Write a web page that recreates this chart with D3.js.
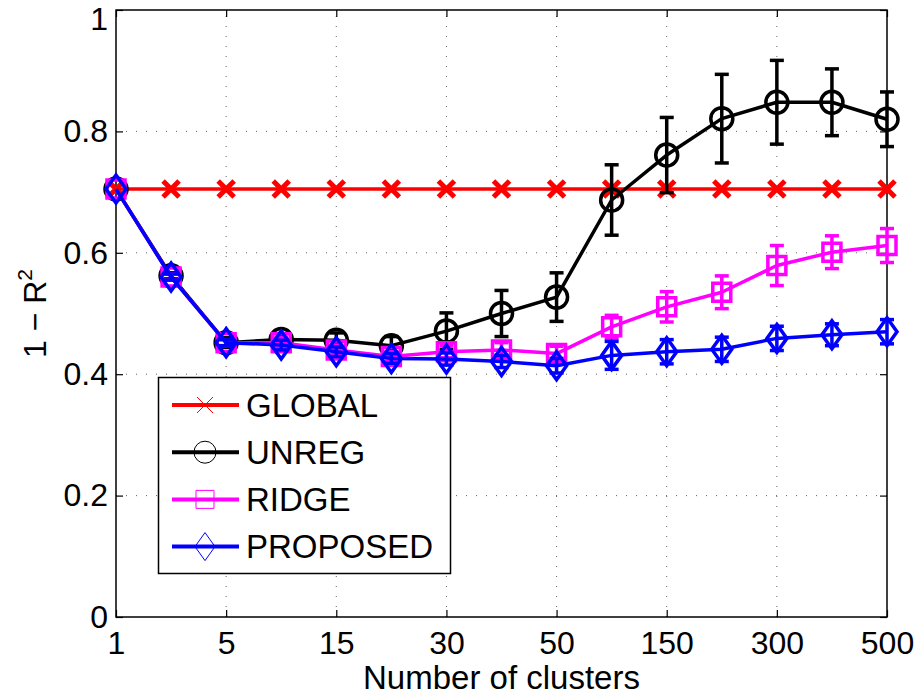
<!DOCTYPE html>
<html>
<head>
<meta charset="utf-8">
<script src="https://cdn.jsdelivr.net/npm/d3@7"></script>
<style>
  body { margin: 0; background: #fff; }
  text { font-family: "Liberation Sans", Arial, Helvetica, sans-serif; fill: #000; }
</style>
</head>
<body>
<div id="chart"></div>
<script>
// x positions are evenly spaced steps; only every other step gets a label
const xTickLabels = ["1", "5", "15", "30", "50", "150", "300", "500"];
const yTicks = [0, 0.2, 0.4, 0.6, 0.8, 1];

const globalVals = [0.705, 0.705, 0.705, 0.705, 0.705, 0.705, 0.705, 0.705, 0.705, 0.705, 0.705, 0.705, 0.705, 0.705, 0.705];

const unregVals = [0.705, 0.562, 0.452, 0.457, 0.456, 0.447, 0.471, 0.500, 0.527, 0.687, 0.761, 0.821, 0.848, 0.848, 0.820];
const unregErr  = [0, 0.005, 0.008, 0.010, 0.012, 0.015, 0.030, 0.038, 0.040, 0.058, 0.062, 0.073, 0.069, 0.055, 0.045];

const ridgeVals = [0.705, 0.560, 0.452, 0.452, 0.440, 0.429, 0.437, 0.440, 0.434, 0.478, 0.511, 0.535, 0.579, 0.601, 0.612];
const ridgeErr  = [0, 0.005, 0.005, 0.008, 0.008, 0.008, 0.010, 0.012, 0.012, 0.019, 0.025, 0.027, 0.033, 0.027, 0.028];

const proposedVals = [0.705, 0.560, 0.452, 0.448, 0.437, 0.426, 0.425, 0.421, 0.414, 0.431, 0.437, 0.441, 0.459, 0.465, 0.470];
const proposedErr  = [0, 0.005, 0.005, 0.008, 0.008, 0.008, 0.010, 0.010, 0.012, 0.023, 0.020, 0.020, 0.020, 0.018, 0.020];

const series = [
    { name: 'GLOBAL', color: '#ff0000', marker: 'x', values: globalVals, err: null },
    { name: 'UNREG', color: '#000000', marker: 'o', values: unregVals, err: unregErr },
    { name: 'RIDGE', color: '#ff00ff', marker: 's', values: ridgeVals, err: ridgeErr },
    { name: 'PROPOSED', color: '#0000ff', marker: 'd', values: proposedVals, err: proposedErr }
];

const width = 917, height = 698;
const margin = { left: 116, right: 30, top: 10, bottom: 81 };

const svg = d3.select('#chart')
    .append('svg')
    .attr('width', width)
    .attr('height', height);

const x = d3.scaleLinear()
    .domain([0, globalVals.length - 1])
    .range([margin.left, width - margin.right]);

const y = d3.scaleLinear()
    .domain([0, 1])
    .range([height - margin.bottom, margin.top]);

const xTickIdx = xTickLabels.map((d, i) => i * 2);

// dotted grid
const grid = svg.append('g');
grid.selectAll('.vgrid')
    .data(xTickIdx.slice(1, -1))
    .enter()
    .append('line')
    .attr('x1', d => x(d)).attr('x2', d => x(d))
    .attr('y1', y(0)).attr('y2', y(1))
    .attr('stroke', '#666')
    .attr('stroke-width', 1)
    .attr('stroke-dasharray', '1,9');
grid.selectAll('.hgrid')
    .data(yTicks.slice(1, -1))
    .enter()
    .append('line')
    .attr('x1', x(0)).attr('x2', x(14))
    .attr('y1', d => y(d)).attr('y2', d => y(d))
    .attr('stroke', '#666')
    .attr('stroke-width', 1)
    .attr('stroke-dasharray', '1,9');

// axes with inward ticks on all four sides
const fmtX = i => xTickLabels[i / 2];
svg.append('g')
    .attr('transform', `translate(0,${y(0)})`)
    .call(d3.axisBottom(x).tickValues(xTickIdx).tickFormat(fmtX).tickSizeInner(-7).tickSizeOuter(0).tickPadding(14))
    .call(g => g.select('.domain').remove())
    .call(g => g.selectAll('text').attr('font-size', 32).attr('dy', '0.71em'));
svg.append('g')
    .attr('transform', `translate(0,${y(1)})`)
    .call(d3.axisTop(x).tickValues(xTickIdx).tickFormat('').tickSizeInner(-7).tickSizeOuter(0))
    .call(g => g.select('.domain').remove());
svg.append('g')
    .attr('transform', `translate(${x(0)},0)`)
    .call(d3.axisLeft(y).tickValues(yTicks).tickFormat(d3.format('')).tickSizeInner(-7).tickSizeOuter(0).tickPadding(8))
    .call(g => g.select('.domain').remove())
    .call(g => g.selectAll('text').attr('font-size', 32))
    .call(g => g.selectAll('text').filter(d => d === 1).attr('dy', '0.6em'));
svg.append('g')
    .attr('transform', `translate(${x(14)},0)`)
    .call(d3.axisRight(y).tickValues(yTicks).tickFormat('').tickSizeInner(-7).tickSizeOuter(0))
    .call(g => g.select('.domain').remove());
svg.selectAll('.tick line').attr('stroke', '#000').attr('stroke-width', 1.2);

svg.append('rect')
    .attr('x', x(0)).attr('y', y(1))
    .attr('width', x(14) - x(0)).attr('height', y(0) - y(1))
    .attr('fill', 'none')
    .attr('stroke', '#000')
    .attr('stroke-width', 1.5);

// marker shapes
function markerPath(type) {
    if (type === 'x') return 'M-8,-8L8,8M-8,8L8,-8';
    if (type === 's') return 'M-9,-9H9V9H-9Z';
    if (type === 'd') return 'M0,-14L10,0L0,14L-10,0Z';
    return d3.arc()({ innerRadius: 0, outerRadius: 11, startAngle: 0, endAngle: 2 * Math.PI });
}

const line = d3.line()
    .x((d, i) => x(i))
    .y(d => y(d));

series.forEach(s => {
    const g = svg.append('g');

    if (s.err) {
        const eb = g.selectAll('.eb')
            .data(s.values.map((v, i) => ({ i: i, v: v, e: s.err[i] })).filter(d => d.e > 0))
            .enter()
            .append('g')
            .attr('stroke', s.color)
            .attr('stroke-width', 3.5);
        eb.append('line')
            .attr('x1', d => x(d.i)).attr('x2', d => x(d.i))
            .attr('y1', d => y(d.v - d.e)).attr('y2', d => y(d.v + d.e));
        eb.append('line')
            .attr('x1', d => x(d.i) - 7).attr('x2', d => x(d.i) + 7)
            .attr('y1', d => y(d.v - d.e)).attr('y2', d => y(d.v - d.e));
        eb.append('line')
            .attr('x1', d => x(d.i) - 7).attr('x2', d => x(d.i) + 7)
            .attr('y1', d => y(d.v + d.e)).attr('y2', d => y(d.v + d.e));
    }

    g.append('path')
        .datum(s.values)
        .attr('d', line)
        .attr('fill', 'none')
        .attr('stroke', s.color)
        .attr('stroke-width', 3.5)
        .attr('stroke-linejoin', 'round');

    g.selectAll('.mk')
        .data(s.values)
        .enter()
        .append('path')
        .attr('d', markerPath(s.marker))
        .attr('transform', (d, i) => `translate(${x(i)},${y(d)})`)
        .attr('fill', 'none')
        .attr('stroke', s.color)
        .attr('stroke-width', s.marker === 'x' ? 5 : 3.5);
});

// legend
const legend = svg.append('g');
legend.append('rect')
    .attr('x', 158.5).attr('y', 377.5)
    .attr('width', 292).attr('height', 196)
    .attr('fill', '#fff')
    .attr('stroke', '#000')
    .attr('stroke-width', 1.5);

const rows = legend.selectAll('.row')
    .data(series)
    .enter()
    .append('g')
    .attr('transform', (d, i) => `translate(0,${405 + i * 47.2})`);
rows.append('line')
    .attr('x1', 172).attr('x2', 239)
    .attr('stroke', d => d.color)
    .attr('stroke-width', 4);
rows.append('path')
    .attr('d', d => markerPath(d.marker))
    .attr('transform', 'translate(205,0)')
    .attr('fill', 'none')
    .attr('stroke', d => d.color)
    .attr('stroke-width', 1);
rows.append('text')
    .attr('x', 246)
    .attr('dy', '0.36em')
    .attr('font-size', 33)
    .text(d => d.name);

// axis titles
svg.append('text')
    .attr('x', (x(0) + x(14)) / 2)
    .attr('y', 689)
    .attr('text-anchor', 'middle')
    .attr('font-size', 33)
    .text('Number of clusters');

const yl = svg.append('text')
    .attr('transform', `translate(46,${(y(0) + y(1)) / 2}) rotate(-90)`)
    .attr('text-anchor', 'middle')
    .attr('font-size', 32);
yl.append('tspan').text('1 \u2212 R');
yl.append('tspan').attr('font-size', 21).attr('dy', -14).text('2');
</script>
</body>
</html>
